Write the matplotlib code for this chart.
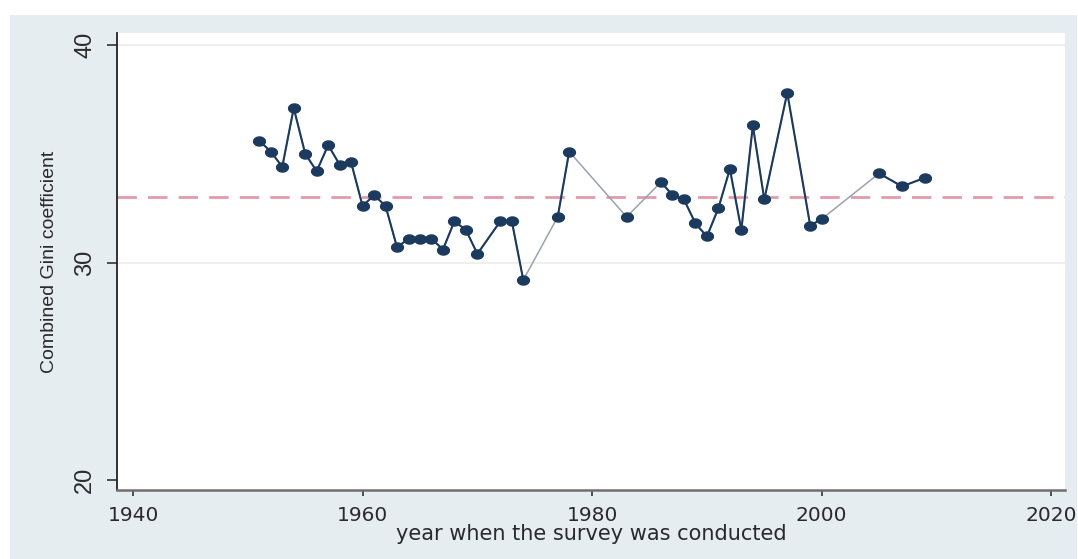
import numpy as np
import matplotlib
matplotlib.use("Agg")
import matplotlib.pyplot as plt
from matplotlib.patches import Rectangle
from matplotlib.path import Path
from matplotlib import font_manager

years = [1951, 1952, 1953, 1954, 1955, 1956, 1957, 1958, 1959, 1960,
         1961, 1962, 1963, 1964, 1965, 1966, 1967, 1968, 1969, 1970,
         1972, 1973, 1974, 1977, 1978, 1983, 1986, 1987, 1988, 1989,
         1990, 1991, 1992, 1993, 1994, 1995, 1997, 1999, 2000, 2005,
         2007, 2009]
gini = [35.6, 35.1, 34.4, 37.1, 35.0, 34.2, 35.4, 34.5, 34.6, 32.6,
        33.1, 32.6, 30.7, 31.1, 31.1, 31.1, 30.6, 31.9, 31.5, 30.4,
        31.9, 31.9, 29.2, 32.1, 35.1, 32.1, 33.7, 33.1, 32.9, 31.8,
        31.2, 32.5, 34.3, 31.5, 36.3, 32.9, 37.8, 31.7, 32.0, 34.1,
        33.5, 33.9]
mean_gini = 33.0
xticks = [1940, 1960, 1980, 2000, 2020]
yticks = [20, 30, 40]

# narrow font for the rotated y texts if available
names = {f.name for f in font_manager.fontManager.ttflist}
narrow = "Liberation Sans Narrow" if "Liberation Sans Narrow" in names else "Liberation Sans"

navy = "#1b3a5e"
bg = "#e5edf1"

# slightly wide ellipse marker, like the stretched original
th = np.linspace(0, 2 * np.pi, 40)
ellipse = Path(np.column_stack([1.3 * np.cos(th), np.sin(th)]), closed=True)

fig = plt.figure(figsize=(10.78, 5.59), dpi=100, facecolor="white")
fig.patches.append(Rectangle((10 / 1078, 0), 1067 / 1078, 544 / 559,
                             transform=fig.transFigure, facecolor=bg,
                             edgecolor="none", zorder=-10))
ax = fig.add_axes([117 / 1078, 69 / 559, 948 / 1078, 457 / 559])
ax.set_zorder(2)
ax.set_facecolor("white")

for y in [30, 40]:
    ax.axhline(y, color="#efefef", linewidth=1.5, zorder=1)

ax.axhline(mean_gini, color="#e39aaa", linewidth=2, linestyle=(0, (7, 4)), zorder=2)

# grey line through all points, darker where survey years are close
ax.plot(years, gini, color="#9aa3ad", linewidth=1.1, zorder=3)
yr = np.array(years)
gv = np.array(gini)
for i in range(len(yr) - 1):
    if yr[i + 1] - yr[i] <= 2:
        ax.plot(yr[i:i + 2], gv[i:i + 2], color=navy, linewidth=1.5, zorder=4)
ax.plot(years, gini, linestyle="none", marker=ellipse, markersize=8.5,
        color=navy, zorder=5)

ax.set_xlim(1938.6, 2021.2)
ax.set_ylim(19.55, 40.55)
ax.set_xticks(xticks)
ax.set_yticks(yticks)

for s in ["top", "right"]:
    ax.spines[s].set_visible(False)
ax.spines["left"].set_color("#222222")
ax.spines["left"].set_linewidth(1.3)
ax.spines["bottom"].set_color("#6f6f6f")
ax.spines["bottom"].set_linewidth(1.8)

ax.tick_params(axis="x", length=4.5, width=1.2, color="#333333", pad=7,
               labelsize=14.5, labelcolor="#2a2a2a")
ax.tick_params(axis="y", length=7, width=1.2, color="#333333", pad=8,
               labelsize=17, labelcolor="#2a2a2a")
for t in ax.get_yticklabels():
    t.set_rotation(90)
    t.set_va("center")
    t.set_family(narrow)

ax.set_xlabel("year when the survey was conducted", fontsize=15,
              color="#2a2a2a", labelpad=-1)
ax.set_ylabel("Combined Gini coefficient", fontsize=14, family=narrow,
              color="#2a2a2a")
ax.yaxis.set_label_coords(-0.062, 0.5)

fig.savefig("out.png", dpi=100, facecolor=fig.get_facecolor())
